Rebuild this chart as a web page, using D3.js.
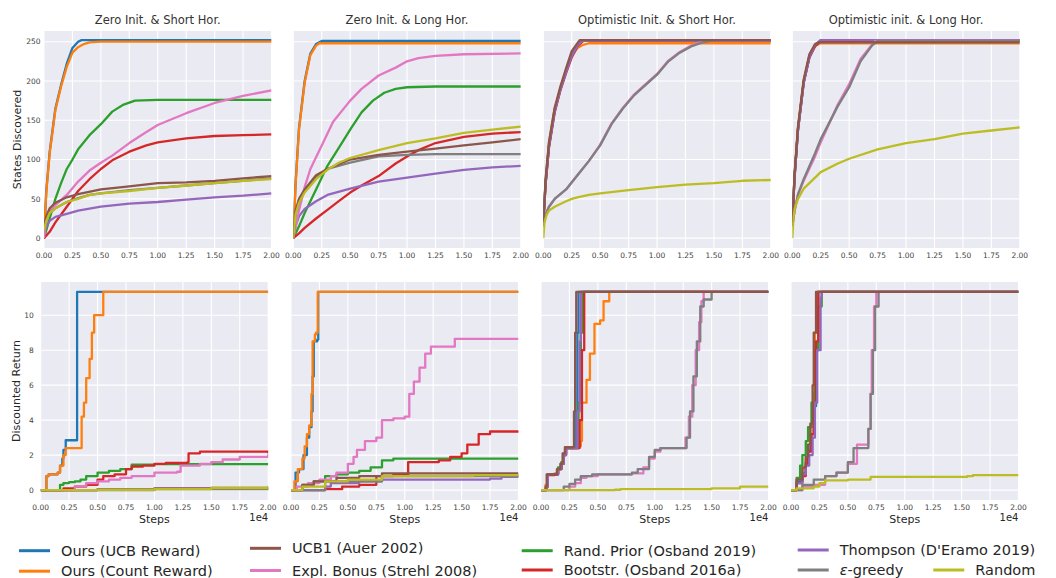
<!DOCTYPE html>
<html>
<head>
<meta charset="utf-8">
<script src="https://cdn.jsdelivr.net/npm/d3@7"></script>
<style>
  body { margin: 0; background: #fff; }
  text { font-family: "DejaVu Sans", sans-serif; fill: #262626; }
</style>
</head>
<body>
<div id="chart"></div>
<script>
// x values are in units of 1e4 steps
const titles = ["Zero Init. & Short Hor.", "Zero Init. & Long Hor.", "Optimistic Init. & Short Hor.", "Optimistic init. & Long Hor."];
const xTicks = [0, 0.25, 0.5, 0.75, 1.0, 1.25, 1.5, 1.75, 2.0];
const statesTicks = [0, 50, 100, 150, 200, 250];
const returnTicks = [0, 2, 4, 6, 8, 10];

// states discovered, one list per panel
const statesUcb = [
  [[0,0],[0.02,60],[0.05,110],[0.1,165],[0.15,195],[0.2,222],[0.25,242],[0.3,250],[0.33,252],[2,252]],
  [[0,0],[0.02,70],[0.05,140],[0.1,200],[0.15,235],[0.2,247],[0.25,251],[2,251]],
  [[0,20],[0.02,70],[0.05,118],[0.1,162],[0.15,190],[0.2,212],[0.25,234],[0.3,246],[0.35,251],[2,251]],
  [[0,20],[0.02,78],[0.05,138],[0.1,198],[0.15,230],[0.2,245],[0.25,252],[2,252]]
];
const statesCount = [
  [[0,0],[0.02,58],[0.05,108],[0.1,163],[0.15,193],[0.2,218],[0.25,236],[0.3,243],[0.35,247],[0.4,249],[0.5,250],[2,250]],
  [[0,0],[0.02,68],[0.05,138],[0.1,198],[0.15,233],[0.2,245],[0.23,248],[2,248]],
  [[0,20],[0.02,72],[0.05,122],[0.1,165],[0.15,190],[0.2,212],[0.25,232],[0.3,242],[0.35,246],[0.4,248],[2,248]],
  [[0,20],[0.02,80],[0.05,140],[0.1,200],[0.15,232],[0.2,245],[0.25,248],[2,248]]
];
const statesUcb1 = [
  [[0,15],[0.02,28],[0.05,38],[0.1,45],[0.2,52],[0.3,56],[0.5,62],[0.75,66],[1.0,70],[1.25,71],[1.5,73],[1.75,76],[2.0,79]],
  [[0,0],[0.02,35],[0.05,50],[0.1,62],[0.2,80],[0.3,88],[0.5,100],[0.75,106],[1.0,110],[1.25,114],[1.5,118],[1.75,122],[2.0,126]],
  [[0,20],[0.02,75],[0.05,122],[0.1,166],[0.15,193],[0.2,216],[0.25,238],[0.3,248],[0.32,252],[2,252]],
  [[0,20],[0.02,82],[0.05,142],[0.1,202],[0.15,234],[0.2,247],[0.23,249],[2,249]]
];
const statesExpl = [
  [[0,0],[0.02,25],[0.05,35],[0.1,42],[0.2,55],[0.3,72],[0.4,86],[0.5,96],[0.6,105],[0.75,121],[0.9,135],[1.0,144],[1.1,150],[1.25,159],[1.5,172],[1.75,181],[2.0,188]],
  [[0,0],[0.05,35],[0.1,65],[0.15,88],[0.25,118],[0.35,148],[0.5,175],[0.6,190],[0.75,207],[0.9,217],[1.0,225],[1.1,229],[1.25,232],[1.5,234],[2.0,235]],
  [[0,15],[0.02,30],[0.05,40],[0.1,50],[0.2,62],[0.3,80],[0.4,98],[0.5,119],[0.6,146],[0.7,166],[0.8,183],[0.9,196],[1.0,209],[1.1,226],[1.2,237],[1.3,245],[1.4,250],[1.45,252],[2,252]],
  [[0,15],[0.02,35],[0.05,55],[0.1,73],[0.2,104],[0.25,122],[0.3,138],[0.4,170],[0.5,196],[0.6,228],[0.7,246],[0.73,251],[2,251]]
];
const statesPrior = [
  [[0,0],[0.05,25],[0.1,50],[0.15,70],[0.2,88],[0.25,100],[0.3,113],[0.4,131],[0.5,145],[0.6,161],[0.7,170],[0.8,175],[1.0,176],[2.0,176]],
  [[0,0],[0.05,15],[0.1,32],[0.2,62],[0.3,92],[0.4,115],[0.5,138],[0.6,160],[0.7,175],[0.8,185],[0.9,190],[1.0,192],[1.25,193],[2.0,193]],
  [[0,20],[0.02,70],[0.05,118],[0.1,163],[0.15,190],[0.2,212],[0.25,234],[0.3,246],[0.34,251],[2,251]],
  [[0,20],[0.02,79],[0.05,139],[0.1,199],[0.15,231],[0.2,245],[0.25,251],[2,251]]
];
const statesBoot = [
  [[0,0],[0.05,8],[0.1,20],[0.2,40],[0.3,60],[0.4,75],[0.5,88],[0.6,99],[0.75,110],[0.9,118],[1.0,122],[1.25,127],[1.5,130],[1.75,131],[2.0,132]],
  [[0,0],[0.05,6],[0.1,13],[0.2,25],[0.3,36],[0.4,47],[0.5,58],[0.6,67],[0.75,79],[0.9,95],[1.0,104],[1.1,112],[1.25,121],[1.5,129],[1.75,133],[2.0,135]],
  [[0,20],[0.02,68],[0.05,115],[0.1,160],[0.15,188],[0.2,210],[0.25,230],[0.3,244],[0.35,251],[2,251]],
  [[0,20],[0.02,78],[0.05,138],[0.1,198],[0.15,230],[0.2,244],[0.25,251],[2,251]]
];
const statesThompson = [
  [[0,5],[0.02,15],[0.05,22],[0.1,27],[0.2,31],[0.3,35],[0.5,40],[0.75,44],[1.0,46],[1.25,49],[1.5,52],[1.75,54],[2.0,57]],
  [[0,0],[0.02,15],[0.05,28],[0.1,37],[0.2,47],[0.3,55],[0.5,63],[0.75,72],[1.0,77],[1.25,82],[1.5,87],[1.75,90],[2.0,92]],
  [[0,20],[0.02,69],[0.05,117],[0.1,161],[0.15,189],[0.2,211],[0.25,232],[0.3,245],[0.34,251],[2,251]],
  [[0,20],[0.02,77],[0.05,137],[0.1,197],[0.15,230],[0.2,246],[0.25,252],[2,252]]
];
const statesEgreedy = [
  [[0,10],[0.02,22],[0.05,32],[0.1,38],[0.2,46],[0.3,51],[0.4,55],[0.5,57],[0.75,61],[1.0,64],[1.25,67],[1.5,70],[1.75,73],[2.0,76]],
  [[0,0],[0.02,30],[0.05,45],[0.1,60],[0.2,78],[0.3,88],[0.5,96],[0.75,104],[1.0,106],[1.25,107],[2.0,107]],
  [[0,15],[0.02,30],[0.05,40],[0.1,50],[0.2,62],[0.3,80],[0.4,98],[0.5,118],[0.6,145],[0.7,165],[0.8,182],[0.9,195],[1.0,208],[1.1,225],[1.2,236],[1.3,244],[1.4,249],[1.5,252],[2.0,252]],
  [[0,15],[0.02,35],[0.05,56],[0.1,75],[0.2,108],[0.25,126],[0.3,140],[0.4,168],[0.5,192],[0.6,225],[0.7,245],[0.75,251],[2.0,251]]
];
const statesRandom = [
  [[0,10],[0.02,22],[0.05,32],[0.1,38],[0.2,46],[0.3,50],[0.4,55],[0.5,57],[0.75,60],[1.0,64],[1.25,67],[1.5,70],[1.75,73],[2.0,75]],
  [[0,0],[0.02,30],[0.05,45],[0.1,58],[0.2,75],[0.3,87],[0.4,96],[0.5,102],[0.75,112],[1.0,121],[1.25,127],[1.5,134],[1.75,138],[2.0,142]],
  [[0,0],[0.01,20],[0.03,30],[0.05,35],[0.1,40],[0.2,47],[0.25,50],[0.3,52],[0.4,55],[0.5,57],[0.75,61],[1.0,65],[1.25,68],[1.5,70],[1.75,73],[2.0,74]],
  [[0,0],[0.01,25],[0.02,37],[0.05,50],[0.1,63],[0.2,77],[0.25,84],[0.4,95],[0.5,101],[0.75,113],[1.0,121],[1.25,126],[1.5,133],[1.75,137],[2.0,141]]
];

// discounted return, one list per panel
const returnUcb = [
  [[0,0],[0.03,0],[0.05,0.8],[0.07,0.9],[0.15,1.0],[0.17,1.4],[0.19,1.8],[0.2,2.3],[0.22,2.85],[0.3,2.85],[0.32,11.33],[2,11.33]],
  [[0,0],[0.04,1.0],[0.07,1.2],[0.11,2.0],[0.14,3.0],[0.16,3.6],[0.18,4.5],[0.19,6.5],[0.2,8.5],[0.23,8.6],[0.24,11.33],[2,11.33]],
  [[0,0],[0.05,0.2],[0.06,0.9],[0.12,0.9],[0.15,1.2],[0.18,1.5],[0.2,2.0],[0.22,2.4],[0.29,2.4],[0.31,4.5],[0.32,9.0],[0.33,11.33],[2,11.33]],
  [[0,0],[0.05,0.5],[0.1,1.0],[0.13,1.6],[0.15,2.3],[0.17,3.2],[0.2,4.8],[0.22,8.0],[0.24,11.33],[2,11.33]]
];
const returnCount = [
  [[0,0],[0.03,0],[0.05,0.8],[0.07,0.9],[0.15,1.0],[0.17,1.4],[0.2,2.0],[0.22,2.4],[0.35,2.4],[0.36,4.2],[0.38,5.0],[0.4,6.4],[0.43,7.5],[0.45,9.0],[0.47,10.0],[0.53,10.0],[0.55,11.33],[2,11.33]],
  [[0,0],[0.03,0.5],[0.06,1.2],[0.1,1.8],[0.12,2.5],[0.14,3.2],[0.16,3.7],[0.18,5.5],[0.19,8.5],[0.21,8.9],[0.22,9.0],[0.235,11.33],[2,11.33]],
  [[0,0],[0.04,0.3],[0.06,0.9],[0.12,0.95],[0.15,1.2],[0.18,1.6],[0.2,2.0],[0.22,2.4],[0.33,2.5],[0.35,2.8],[0.36,5.0],[0.4,6.3],[0.43,7.8],[0.47,9.5],[0.52,9.7],[0.55,10.8],[0.6,11.33],[2,11.33]],
  [[0,0],[0.05,0.6],[0.1,1.2],[0.13,1.8],[0.15,2.6],[0.17,3.6],[0.2,5.5],[0.21,9.0],[0.23,11.33],[2,11.33]]
];
const returnUcb1 = [
  [[0,0],[0.5,0.02],[1.0,0.08],[1.5,0.12],[2.0,0.18]],
  [[0,0],[0.1,0.3],[0.2,0.5],[0.4,0.7],[0.6,0.8],[0.8,0.95],[2.0,0.95]],
  [[0,0],[0.04,0.2],[0.05,0.9],[0.11,0.9],[0.14,1.2],[0.17,1.5],[0.19,2.1],[0.21,2.45],[0.28,2.45],[0.29,4.5],[0.3,9.0],[0.31,11.33],[2,11.33]],
  [[0,0],[0.05,0.6],[0.1,1.3],[0.13,1.9],[0.15,2.6],[0.17,3.8],[0.19,6.0],[0.2,9.0],[0.22,11.33],[2,11.33]]
];
const returnExpl = [
  [[0,0],[0.2,0],[0.3,0.2],[0.4,0.4],[0.5,0.5],[0.6,0.6],[0.7,0.7],[0.8,0.8],[1.0,1.0],[1.2,1.05],[1.23,1.4],[1.4,1.5],[1.5,1.6],[1.6,1.75],[1.75,1.9],[1.95,1.9],[2.0,2.05]],
  [[0,0],[0.05,0.2],[0.15,0.4],[0.25,0.6],[0.35,0.8],[0.4,1.0],[0.5,1.5],[0.55,1.9],[0.58,2.3],[0.65,2.8],[0.75,3.0],[0.8,4.0],[0.9,4.1],[1.0,4.2],[1.04,5.5],[1.08,6.2],[1.13,7.0],[1.18,7.8],[1.23,8.2],[1.44,8.65],[2.0,8.65]],
  [[0,0],[0.22,0],[0.25,0.2],[0.3,0.4],[0.35,0.7],[0.4,0.8],[0.5,0.9],[0.75,0.9],[0.8,0.95],[0.9,1.3],[0.95,1.8],[1.0,2.2],[1.05,2.4],[1.24,2.4],[1.27,3.0],[1.3,4.2],[1.33,6.0],[1.36,8.0],[1.39,9.6],[1.41,10.8],[1.43,11.33],[2,11.33]],
  [[0,0],[0.1,0.2],[0.2,0.3],[0.3,0.8],[0.4,1.0],[0.5,1.5],[0.58,2.6],[0.66,2.6],[0.68,3.5],[0.7,5.5],[0.71,8.0],[0.73,10.5],[0.75,11.33],[2,11.33]]
];
const returnPrior = [
  [[0,0],[0.15,0],[0.17,0.3],[0.2,0.4],[0.25,0.45],[0.3,0.5],[0.35,0.6],[0.4,0.8],[0.5,1.0],[0.6,1.1],[0.7,1.2],[0.8,1.45],[1.0,1.48],[2.0,1.48]],
  [[0,0],[0.1,0.3],[0.2,0.5],[0.3,0.8],[0.4,0.9],[0.5,1.0],[0.6,1.1],[0.7,1.3],[0.8,1.7],[0.9,1.8],[2.0,1.8]],
  [[0,0],[0.05,0.2],[0.06,0.9],[0.12,0.9],[0.15,1.3],[0.18,1.6],[0.2,2.1],[0.22,2.4],[0.3,2.4],[0.33,5.0],[0.35,9.0],[0.37,11.33],[2,11.33]],
  [[0,0],[0.05,0.7],[0.08,1.4],[0.1,2.0],[0.13,2.8],[0.15,3.6],[0.18,5.0],[0.21,8.0],[0.24,10.5],[0.27,11.33],[2,11.33]]
];
const returnBoot = [
  [[0,0],[0.15,0],[0.2,0.1],[0.3,0.2],[0.4,0.3],[0.5,0.6],[0.55,0.8],[0.65,0.9],[0.75,1.2],[0.8,1.35],[0.9,1.4],[1.0,1.5],[1.1,1.55],[1.29,1.6],[1.3,2.1],[1.4,2.2],[1.9,2.2],[2.0,2.1]],
  [[0,0],[0.3,0.05],[0.45,0.2],[0.6,0.3],[0.75,0.8],[0.9,0.9],[1.03,1.6],[1.3,1.7],[1.4,1.9],[1.5,2.1],[1.55,2.6],[1.65,3.2],[1.75,3.35],[2.0,3.4]],
  [[0,0],[0.05,0.2],[0.06,0.85],[0.12,0.9],[0.15,1.2],[0.18,1.5],[0.2,2.0],[0.22,2.4],[0.3,2.4],[0.34,4.0],[0.36,8.0],[0.38,11.33],[2,11.33]],
  [[0,0],[0.05,0.4],[0.1,0.8],[0.13,1.5],[0.15,2.2],[0.18,3.2],[0.2,5.0],[0.22,8.5],[0.24,11.33],[2,11.33]]
];
const returnThompson = [
  [[0,0],[0.5,0.05],[1.0,0.1],[2.0,0.15]],
  [[0,0],[0.3,0.2],[0.35,0.4],[0.6,0.5],[0.8,0.6],[1.75,0.65],[1.85,0.75],[2.0,0.75]],
  [[0,0],[0.05,0.2],[0.06,0.9],[0.12,0.9],[0.15,1.2],[0.18,1.5],[0.2,2.0],[0.22,2.4],[0.3,2.4],[0.32,4.5],[0.34,8.5],[0.35,11.33],[2,11.33]],
  [[0,0],[0.05,0.4],[0.1,0.9],[0.13,1.4],[0.16,2.0],[0.19,3.0],[0.21,5.0],[0.23,8.0],[0.26,11.0],[0.27,11.33],[2,11.33]]
];
const returnEgreedy = [
  [[0,0],[1.0,0.05],[2.0,0.1]],
  [[0,0],[0.3,0.5],[0.8,0.8],[2.0,0.85]],
  [[0,0],[0.18,0],[0.2,0.2],[0.25,0.35],[0.3,0.6],[0.35,0.8],[0.45,0.9],[0.75,0.9],[0.8,1.0],[0.85,1.2],[0.95,1.9],[1.0,2.3],[1.05,2.4],[1.25,2.4],[1.28,3.0],[1.31,4.5],[1.34,6.5],[1.37,8.5],[1.4,10.5],[1.43,10.9],[1.5,11.33],[2,11.33]],
  [[0,0],[0.1,0.3],[0.2,0.6],[0.3,0.8],[0.4,1.0],[0.5,1.6],[0.55,2.4],[0.65,2.4],[0.68,3.5],[0.7,5.5],[0.72,8.0],[0.74,10.5],[0.77,11.33],[2,11.33]]
];
const returnRandom = [
  [[0,0],[0.5,0.02],[1.0,0.05],[1.5,0.12],[2.0,0.25]],
  [[0,0],[0.1,0.2],[0.3,0.5],[0.5,0.6],[0.8,0.8],[1.6,0.85],[2.0,0.9]],
  [[0,0],[0.65,0.02],[0.7,0.05],[1.25,0.05],[1.5,0.1],[1.75,0.2],[2.0,0.2]],
  [[0,0],[0.05,0.1],[0.2,0.2],[0.25,0.4],[0.3,0.55],[0.5,0.6],[0.7,0.75],[1.55,0.8],[1.6,0.85],[2.0,0.85]]
];

const methods = [
  {name: "Ours (UCB Reward)", color: "#1f77b4", states: statesUcb, ret: returnUcb},
  {name: "Ours (Count Reward)", color: "#ff7f0e", states: statesCount, ret: returnCount},
  {name: "Rand. Prior (Osband 2019)", color: "#2ca02c", states: statesPrior, ret: returnPrior},
  {name: "Bootstr. (Osband 2016a)", color: "#d62728", states: statesBoot, ret: returnBoot},
  {name: "Thompson (D'Eramo 2019)", color: "#9467bd", states: statesThompson, ret: returnThompson},
  {name: "Expl. Bonus (Strehl 2008)", color: "#e377c2", states: statesExpl, ret: returnExpl},
  {name: "ε-greedy", color: "#7f7f7f", states: statesEgreedy, ret: returnEgreedy},
  {name: "UCB1 (Auer 2002)", color: "#8c564b", states: statesUcb1, ret: returnUcb1},
  {name: "Random", color: "#bcbd22", states: statesRandom, ret: returnRandom}
];

const W = 1056, H = 578;
const svg = d3.select("#chart").append("svg").attr("width", W).attr("height", H);

const topLefts = [44, 293.3, 543.3, 792.3];
const botLefts = [40.7, 291, 541, 791];
const pw = 227.5;

function drawPanel(i, left, top, bottom, yDomain, yTicks, key, curve, isBottom) {
  const x = d3.scaleLinear().domain([0, 2]).range([left, left + pw]);
  const y = d3.scaleLinear().domain(yDomain).range([bottom, top]);
  const g = svg.append("g");
  g.append("rect").attr("x", left).attr("y", top).attr("width", pw).attr("height", bottom - top).attr("fill", "#eaeaf2");
  g.selectAll(".gx").data(xTicks).enter().append("line")
    .attr("x1", d => x(d)).attr("x2", d => x(d)).attr("y1", top).attr("y2", bottom)
    .attr("stroke", "#fff").attr("stroke-width", 1.1);
  g.selectAll(".gy").data(yTicks).enter().append("line")
    .attr("x1", left).attr("x2", left + pw).attr("y1", d => y(d)).attr("y2", d => y(d))
    .attr("stroke", "#fff").attr("stroke-width", 1.1);

  const clipId = "clip" + key + i;
  svg.append("clipPath").attr("id", clipId).append("rect")
    .attr("x", left).attr("y", top).attr("width", pw).attr("height", bottom - top);
  const line = d3.line().x(d => x(d[0])).y(d => y(d[1])).curve(curve);
  g.append("g").attr("clip-path", "url(#" + clipId + ")")
    .selectAll("path").data(methods).enter().append("path")
    .attr("d", m => line(m[key][i]))
    .attr("fill", "none").attr("stroke", m => m.color).attr("stroke-width", 2.3)
    .attr("stroke-linejoin", "round");

  g.selectAll(".tx").data(xTicks).enter().append("text")
    .attr("x", d => x(d)).attr("y", bottom + 9.5)
    .attr("text-anchor", "middle").attr("font-size", 7.5).style("fill", "#444")
    .text(d => d.toFixed(2));
  if (i === 0) {
    g.selectAll(".ty").data(yTicks).enter().append("text")
      .attr("x", left - (isBottom ? 7 : 3.5)).attr("y", d => y(d) + 2.7)
      .attr("text-anchor", "end").attr("font-size", 7.5).style("fill", "#444")
      .text(d => d);
  }
  return g;
}

for (let i = 0; i < 4; i++) {
  const gt = drawPanel(i, topLefts[i], 31, 248, [-12.55, 263.6], statesTicks, "states", d3.curveLinear, false);
  gt.append("text").attr("x", topLefts[i] + pw / 2).attr("y", 23.5)
    .attr("text-anchor", "middle").attr("font-size", 11.5).style("fill", "#333").text(titles[i]);
  const gb = drawPanel(i, botLefts[i], 282, 500, [-0.567, 11.9], returnTicks, "ret", d3.curveStepAfter, true);
  gb.append("text").attr("x", botLefts[i] + pw / 2).attr("y", 523)
    .attr("text-anchor", "middle").attr("font-size", 11).text("Steps");
  gb.append("text").attr("x", botLefts[i] + pw).attr("y", 521)
    .attr("text-anchor", "end").attr("font-size", 10).text("1e4");
}

svg.append("text").attr("transform", "translate(21,139.5) rotate(-90)")
  .attr("text-anchor", "middle").attr("font-size", 11).text("States Discovered");
svg.append("text").attr("transform", "translate(20,391) rotate(-90)")
  .attr("text-anchor", "middle").attr("font-size", 11).text("Discounted Return");

// legend
const legendItems = [
  {name: "Ours (UCB Reward)", color: "#1f77b4", x: 19, y: 550.7},
  {name: "Ours (Count Reward)", color: "#ff7f0e", x: 19, y: 571.2},
  {name: "UCB1 (Auer 2002)", color: "#8c564b", x: 250, y: 548.3},
  {name: "Expl. Bonus (Strehl 2008)", color: "#e377c2", x: 250, y: 570.5},
  {name: "Rand. Prior (Osband 2019)", color: "#2ca02c", x: 521.7, y: 550.7},
  {name: "Bootstr. (Osband 2016a)", color: "#d62728", x: 521.7, y: 570},
  {name: "Thompson (D'Eramo 2019)", color: "#9467bd", x: 797.7, y: 550},
  {name: "ε-greedy", color: "#7f7f7f", x: 797.7, y: 570},
  {name: "Random", color: "#bcbd22", x: 933.3, y: 570}
];
const lg = svg.append("g").selectAll("g").data(legendItems).enter().append("g");
lg.append("line").attr("x1", d => d.x).attr("x2", d => d.x + 31)
  .attr("y1", d => d.y).attr("y2", d => d.y)
  .attr("stroke", d => d.color).attr("stroke-width", 3);
const lt = lg.append("text").attr("x", d => d.x + 42).attr("y", d => d.y + 5)
  .attr("font-size", 14.5);
lt.each(function (d) {
  const t = d3.select(this);
  if (d.name.startsWith("ε")) {
    t.append("tspan").attr("font-style", "italic").text("ε");
    t.append("tspan").text(d.name.slice(1));
  } else {
    t.text(d.name);
  }
});
</script>
</body>
</html>
